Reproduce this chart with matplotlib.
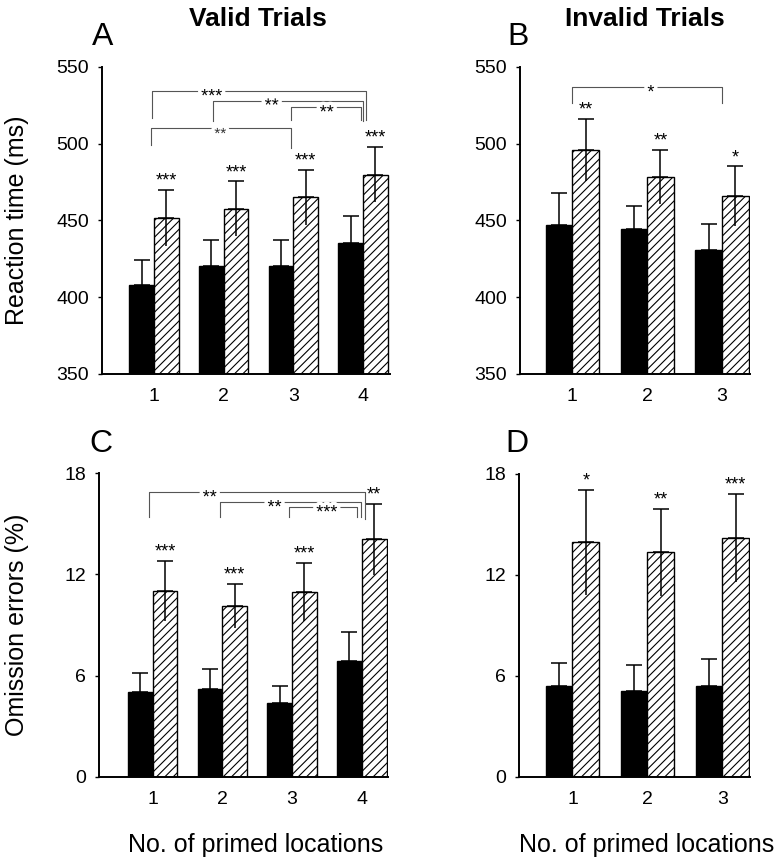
import matplotlib.pyplot as plt
import matplotlib.patheffects as pe
import numpy as np

plt.rcParams['font.family'] = ['Liberation Sans', 'DejaVu Sans']
plt.rcParams['hatch.linewidth'] = 0.8

W, H = 784, 857

# x categories: number of primed locations
locs_valid = [1, 2, 3, 4]
locs_invalid = [1, 2, 3]

# A: reaction time (ms), valid trials
rt_valid_black = [407.6, 420.0, 420.0, 435.4]
rt_valid_black_err = [16.3, 17.4, 17.0, 17.6]
rt_valid_hatch = [451.7, 457.6, 465.0, 479.8]
rt_valid_hatch_err = [18.3, 17.8, 18.0, 18.0]
rt_valid_stars = ["***", "***", "***", "***"]

# B: reaction time (ms), invalid trials
rt_invalid_black = [447.2, 444.1, 430.7]
rt_invalid_black_err = [20.7, 15.4, 17.0]
rt_invalid_hatch = [495.9, 478.3, 465.9]
rt_invalid_hatch_err = [20.2, 17.6, 19.3]
rt_invalid_stars = ["**", "**", "*"]

# C: omission errors (%), valid trials
om_valid_black = [5.0, 5.2, 4.37, 6.86]
om_valid_black_err = [1.17, 1.19, 1.01, 1.74]
om_valid_hatch = [11.02, 10.13, 10.96, 14.08]
om_valid_hatch_err = [1.78, 1.33, 1.72, 2.10]
om_valid_stars = ["***", "***", "***", "**"]

# D: omission errors (%), invalid trials
om_invalid_black = [5.39, 5.11, 5.39]
om_invalid_black_err = [1.39, 1.55, 1.61]
om_invalid_hatch = [13.94, 13.34, 14.21]
om_invalid_hatch_err = [3.13, 2.58, 2.62]
om_invalid_stars = ["*", "**", "***"]

# comparison brackets: (x left, x right, y top, y left leg end, y right leg end, x of label, label)
brackets_A = [(0.97, 4.04, 534.0, 516.4, 515.3, 1.83, "***"),
              (1.85, 4.00, 527.9, 514.8, 514.8, 2.69, "**"),
              (2.96, 3.97, 523.5, 515.3, 515.3, 3.48, "**"),
              (0.95, 2.96, 509.9, 499.0, 496.8, 1.95, "**")]
brackets_B = [(1.00, 3.00, 536.6, 526.1, 526.1, 2.05, "*")]
brackets_C = [(0.95, 4.05, 16.87, 15.43, 15.27, 1.82, "**"),
              (1.97, 3.99, 16.28, 15.43, 15.43, 2.75, "**"),
              (2.95, 3.93, 15.98, 15.43, 15.43, 3.50, "***")]
brackets_D = []

BW = 0.355


def px_axes(l, t, r, b):
    return [l / W, 1 - b / H, (r - l) / W, (b - t) / H]


def panel(rect, x, black, black_err, hatch, hatch_err, stars, brackets,
          xlim, ylim, yticks):
    ax = fig.add_axes(px_axes(*rect))
    x = np.array(x, dtype=float)
    black = np.array(black); hatch = np.array(hatch)
    black_err = np.array(black_err); hatch_err = np.array(hatch_err)
    ax.bar(x - BW / 2, black, BW, color="black", edgecolor="black", lw=1)
    ax.bar(x + BW / 2, hatch, BW, color="white", edgecolor="black", lw=1,
           hatch="////")
    ax.errorbar(x - BW / 2, black, yerr=[np.zeros_like(black_err), black_err],
                fmt="none", ecolor="black", elinewidth=1.1, capsize=5.5, capthick=1.1)
    ax.errorbar(x + BW / 2, hatch, yerr=[np.zeros_like(hatch_err), hatch_err],
                fmt="none", ecolor="black", elinewidth=1.1, capsize=5.5, capthick=1.1)
    ax.vlines(x + BW / 2, hatch - hatch_err, hatch, color="black", lw=1.1)
    for xi, top, s in zip(x + BW / 2, hatch + hatch_err, stars):
        ax.annotate(s, (xi, top), xytext=(0, 3), textcoords="offset points",
                    ha="center", va="baseline", fontsize=13)
    for i, (x1, x2, yt, yl, yr, xt, s) in enumerate(brackets):
        ax.plot([x1, x1, x2, x2], [yl, yt, yt, yr], color="#555555", lw=0.8,
                clip_on=False)
        small = (s == "**" and yt < 512 and ylim[1] > 100)
        ax.annotate(s, (xt, yt), xytext=(0, -7.3), textcoords="offset points",
                    ha="center", va="baseline", fontsize=11 if small else 13,
                    color="#333333" if small else "black",
                    path_effects=[pe.withStroke(linewidth=5, foreground="white")])
    ax.set_xlim(*xlim)
    ax.set_ylim(*ylim)
    ax.set_yticks(yticks)
    ax.set_xticks(x)
    ax.set_xticklabels([str(int(v)) for v in x])
    ax.tick_params(axis="x", length=0, pad=10, labelsize=14)
    ax.tick_params(axis="y", direction="out", length=3, width=1, pad=6.5, labelsize=14)
    ax.spines[["top", "right"]].set_visible(False)
    ax.spines[["left", "bottom"]].set_linewidth(1.4)
    return ax


fig = plt.figure(figsize=(W / 100, H / 100), dpi=100)

panel((102, 66.7, 390, 374), locs_valid, rt_valid_black, rt_valid_black_err,
      rt_valid_hatch, rt_valid_hatch_err, rt_valid_stars, brackets_A,
      (0.254, 4.386), (350, 550), [350, 400, 450, 500, 550])
panel((520, 66.7, 750, 374), locs_invalid, rt_invalid_black, rt_invalid_black_err,
      rt_invalid_hatch, rt_invalid_hatch_err, rt_invalid_stars, brackets_B,
      (0.30, 3.374), (350, 550), [350, 400, 450, 500, 550])
panel((99.3, 473.3, 388, 776.7), locs_valid, om_valid_black, om_valid_black_err,
      om_valid_hatch, om_valid_hatch_err, om_valid_stars, brackets_C,
      (0.234, 4.376), (0, 18), [0, 6, 12, 18])
panel((519.3, 474, 750, 776.7), locs_invalid, om_invalid_black, om_invalid_black_err,
      om_invalid_hatch, om_invalid_hatch_err, om_invalid_stars, brackets_D,
      (0.29, 3.37), (0, 18), [0, 6, 12, 18])


def ftext(xp, yp, s, **kw):
    fig.text(xp / W, 1 - yp / H, s, **kw)


ftext(258, 26, "Valid Trials", ha="center", va="baseline", fontsize=19, fontweight="bold")
ftext(645, 26, "Invalid Trials", ha="center", va="baseline", fontsize=19, fontweight="bold")
ftext(103, 45, "A", ha="center", va="baseline", fontsize=23)
ftext(518, 45, "B", ha="center", va="baseline", fontsize=23)
ftext(101, 451.7, "C", ha="center", va="baseline", fontsize=23)
ftext(517, 451.7, "D", ha="center", va="baseline", fontsize=23)
ftext(17, 220, "Reaction time (ms)", ha="center", va="center", rotation=90, fontsize=18)
ftext(17, 625, "Omission errors (%)", ha="center", va="center", rotation=90, fontsize=18)
ftext(256, 851.7, "No. of primed locations", ha="center", va="baseline", fontsize=18)
ftext(647, 851.7, "No. of primed locations", ha="center", va="baseline", fontsize=18)

fig.savefig("out.png", dpi=100, facecolor="white")
